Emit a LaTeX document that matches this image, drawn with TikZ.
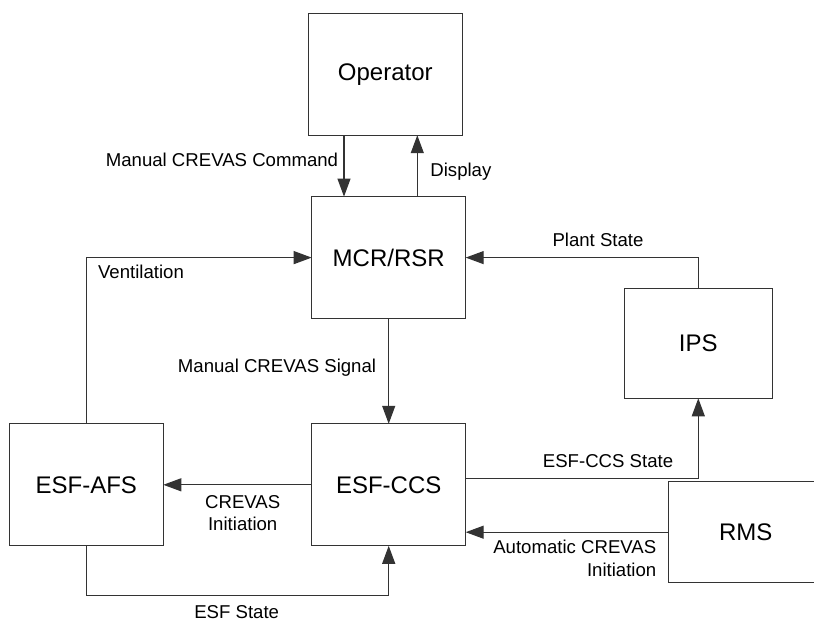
\documentclass[tikz,border=0pt]{standalone}
\usepackage{fontspec}
\setmainfont{Liberation Sans}
\usetikzlibrary{arrows.meta}
\tikzset{
  blk/.style={draw=black!80, line width=0.6pt, minimum width=77pt, minimum height=61pt,
    inner sep=0pt, outer sep=0pt, font=\fontsize{12}{14}\selectfont},
  lbl/.style={inner sep=0pt, font=\fontsize{9.3}{11.15}\selectfont},
  arr/.style={draw=black!80, line width=0.6pt, -{Triangle[length=9pt,width=6.5pt]}}
}
\begin{document}
\begin{tikzpicture}[x=0.5pt,y=-0.5pt]
  \useasboundingbox (0,0) rectangle (814,621);
  % blocks
  \node[blk] (op) at (385.3,74.2) {Operator};
  \node[blk] (mcr) at (388.7,257.6) {MCR/RSR};
  \node[blk] (afs) at (86.3,484.8) {ESF-AFS};
  \node[blk] (ccs) at (388.7,484.8) {ESF-CCS};
  \node[blk,minimum width=74pt,minimum height=55pt] (ips) at (698.3,343.3) {IPS};
  \node[blk,minimum width=77.5pt,minimum height=50.5pt] (rms) at (745.7,532.2) {RMS};
  \coordinate (cmdx) at (344,0);
  \coordinate (dspx) at (417.3,0);
  \coordinate (stay) at (0,478.3);
  % connectors
  \draw[arr] (op.south -| cmdx) -- (mcr.north -| cmdx);
  \draw[arr] (mcr.north -| dspx) -- (op.south -| dspx);
  \draw[arr] (afs.north) |- (mcr.west);
  \draw[arr] (ips.north) |- (mcr.east);
  \draw[arr] (mcr.south) -- (ccs.north);
  \draw[arr] (ccs.west) -- (afs.east);
  \draw[arr] (ccs.east |- stay) -| (ips.south);
  \draw[arr] (rms.west) -- (ccs.east |- rms.west);
  \draw[arr] (afs.south) -- ++(0,50) -| (ccs.south);
  % labels
  \node[lbl,anchor=east] (lcmd) at (338.5,160) {Manual CREVAS Command};
  \node[lbl,anchor=west] (ldsp) at (430,171.7) {Display};
  \node[lbl,anchor=west] (lvent) at (97.7,272) {Ventilation};
  \node[lbl] (lplant) at (598,240) {Plant State};
  \node[lbl] (lsig) at (277,367.7) {Manual CREVAS Signal};
  \node[lbl,align=center] (linit) at (242.7,512.9) {CREVAS\\Initiation};
  \node[lbl] (lccs) at (608,460.7) {ESF-CCS State};
  \node[lbl,align=right,anchor=east] (lauto) at (656.7,558.3) {Automatic CREVAS\\Initiation};
  \node[lbl] (lesf) at (236.7,611.7) {ESF State};
\end{tikzpicture}
\end{document}
